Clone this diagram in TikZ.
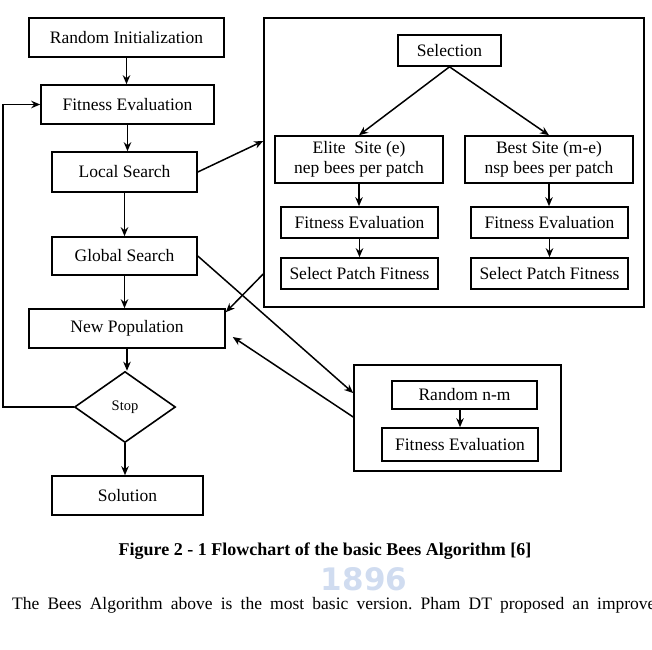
\documentclass[tikz,border=0pt]{standalone}
\usepackage{fontspec}
\setmainfont{Liberation Serif}
\newfontfamily\markfont{DejaVu Sans}
\usetikzlibrary{arrows.meta,positioning,shapes.geometric}
\definecolor{wmblue}{RGB}{208,220,240}

\begin{document}
\frenchspacing
\begin{tikzpicture}[x=1pt,y=-1pt,
      font=\fontsize{17.5}{20}\selectfont,
      s/.style={draw,line width=1.6pt,inner sep=0pt,align=center},
      a/.style={-{Stealth[length=9pt,width=7.5pt]},line width=1.5pt}]
      \useasboundingbox (0,0) rectangle (652,649);
      % main loop
      \node[s,minimum width=195,minimum height=39] (init) at (126.5,37.5) {Random Initialization};
      \node[s,minimum width=173,minimum height=39] (fit) at (127.5,104.5) {Fitness Evaluation};
      \node[s,minimum width=145,minimum height=40] (local) at (124.5,172) {Local Search};
      \node[s,minimum width=145,minimum height=38] (global) at (124.5,256) {Global Search};
      \node[s,minimum width=196,minimum height=39] (newpop) at (127,328.5) {New Population};
      \node[s,diamond,minimum width=101,minimum height=71,
        font=\fontsize{14.5}{16}\selectfont] (stop) at (125,407) {Stop};
      \node[s,minimum width=151,minimum height=39] (solution) at (127.5,495.5) {Solution};
      \foreach \u/\v in {init/fit,fit/local,local/global,global/newpop,newpop/stop,stop/solution}
        \draw[a] (\u.south) -- (\u.south |- \v.north);
      \coordinate (back) at (3,407);
      \draw[a] (stop.west) -- (back) |- (fit.west);
      % local search phase
      \node[s,minimum width=380,minimum height=289] (phase) at (454,162.5) {};
      \node[s,minimum width=103,minimum height=31] (select) at (449.5,50.5) {Selection};
      \node[s,minimum width=168,minimum height=47] (elite) at (359,159.5)
        {Elite\ \ Site (e)\\nep bees per patch};
      \node[s,minimum width=168,minimum height=47] (best) at (549,159.5)
        {Best Site (m-e)\\nsp bees per patch};
      \node[s,minimum width=157,minimum height=31] (fitL) at (359.5,222.5) {Fitness Evaluation};
      \node[s,minimum width=157,minimum height=31] (patchL) at (359.5,273.5) {Select Patch Fitness};
      \node[s,minimum width=157,minimum height=31] (fitR) at (549.5,222.5) {Fitness Evaluation};
      \node[s,minimum width=157,minimum height=31] (patchR) at (549.5,273.5) {Select Patch Fitness};
      \draw[a] (select.south) -- (elite.north);
      \draw[a] (select.south) -- (best.north);
      \foreach \u/\v in {elite/fitL,fitL/patchL,best/fitR,fitR/patchR}
        \draw[a] (\u.south) -- (\u.south |- \v.north);
      % global search phase
      \node[s,minimum width=207,minimum height=106] (rbox) at (457.5,418) {};
      \node[s,minimum width=145,minimum height=28] (rnd) at (464.5,395) {Random n-m};
      \node[s,minimum width=156,minimum height=33] (fitG) at (460,444.5) {Fitness Evaluation};
      \draw[a] (fitG.north |- rnd.south) -- (fitG.north);
      % links between the phases
      \draw[a] (local.east) -- ([yshift=21.5pt]phase.west);
      \draw[a] ([yshift=-111.5pt]phase.west) -- ([yshift=-4pt]newpop.north east);
      \draw[a] (global.east) -- ([yshift=25pt]rbox.west);
      \draw[a] ([yshift=1pt]rbox.west) -- ([xshift=7pt,yshift=-8.5pt]newpop.east);
      % caption and text
      \node[text=wmblue,font=\markfont\bfseries\fontsize{31}{31}\selectfont] (mark) at (364,579) {1896};
      \node[font=\bfseries\fontsize{18}{20}\selectfont] (caption) at (325,551)
        {Figure 2 - 1 Flowchart of the basic Bees Algorithm [6]};
      \node[anchor=west,inner sep=0pt] (body) at (12,605)
        {\makebox[652pt][s]{The Bees Algorithm above is the most basic version. Pham DT proposed an improved}};
    \end{tikzpicture}
\end{document}
